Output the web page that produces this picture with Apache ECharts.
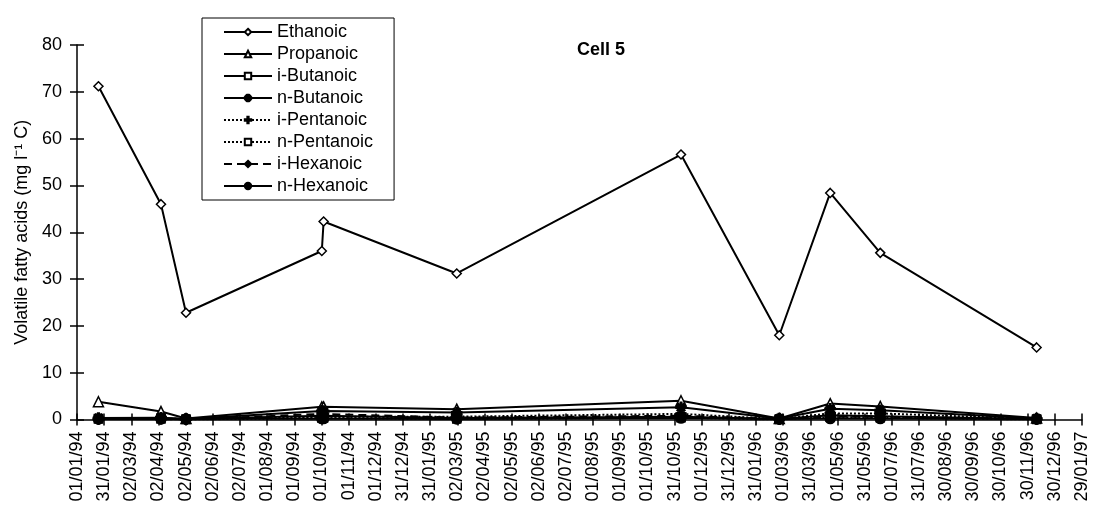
<!DOCTYPE html>
<html>
<head>
<meta charset="utf-8">
<script src="https://cdn.jsdelivr.net/npm/echarts@6/dist/echarts.min.js"></script>
<style>
  html, body { margin: 0; padding: 0; background: #fff; }
  #chart { width: 1097px; height: 517px; }
</style>
</head>
<body>
<div id="chart"></div>
<script>
  // x values are days counted from 01/01/94
  var sampleDays = [24, 94, 122, 274, 276, 425, 676, 786, 843, 899, 1074];

  var ethanoic   = [71.2, 46.0, 22.8, 36.0, 42.3, 31.2, 56.6, 18.0, 48.4, 35.6, 15.4];
  var propanoic  = [3.8, 1.7, 0.2, 2.7, 2.7, 2.2, 4.0, 0.2, 3.4, 2.8, 0.3];
  var iButanoic  = [0.2, 0.3, 0.1, 0.8, 0.8, 0.3, 0.6, 0.1, 0.9, 0.7, 0.1];
  var nButanoic  = [0.3, 0.4, 0.1, 1.8, 1.8, 1.5, 2.6, 0.2, 2.3, 2.0, 0.2];
  var iPentanoic = [0.1, 0.2, 0.1, 0.6, 0.6, 0.6, 1.2, 0.1, 1.3, 1.3, 0.1];
  var nPentanoic = [0.1, 0.1, 0.0, 0.3, 0.3, 0.1, 0.4, 0.0, 0.5, 0.4, 0.0];
  var iHexanoic  = [0.1, 0.1, 0.0, 1.2, 1.2, 0.4, 0.8, 0.1, 0.6, 0.6, 0.1];
  var nHexanoic  = [0.1, 0.1, 0.1, 0.2, 0.2, 0.1, 0.3, 0.1, 0.2, 0.2, 0.1];

  var tickLabels = ['01/01/94','31/01/94','02/03/94','02/04/94','02/05/94','02/06/94','02/07/94','01/08/94',
    '01/09/94','01/10/94','01/11/94','01/12/94','31/12/94','31/01/95','02/03/95','02/04/95','02/05/95',
    '02/06/95','02/07/95','01/08/95','01/09/95','01/10/95','31/10/95','01/12/95','31/12/95','31/01/96',
    '01/03/96','31/03/96','01/05/96','31/05/96','01/07/96','31/07/96','30/08/96','30/09/96','30/10/96',
    '30/11/96','30/12/96','29/01/97'];

  var tickStep = 30.4;
  var font = 'Liberation Sans, Arial, sans-serif';

  var asterisk = 'path://M4.2,0H5.8V10H4.2Z M0,4.2H10V5.8H0Z M1,2.1L2.1,1L9,7.9L7.9,9Z M7.9,1L9,2.1L2.1,9L1,7.9Z';
  var plus = 'path://M4,0H6V10H4Z M0,4H10V6H0Z';

  function pairs(values) {
    return values.map(function (v, i) { return [sampleDays[i], v]; });
  }

  function makeSeries(name, values, symbol, size, filled, lineType) {
    return {
      name: name,
      type: 'line',
      data: pairs(values),
      symbol: symbol,
      symbolSize: size,
      showAllSymbol: true,
      lineStyle: { color: '#000', width: 2, type: lineType },
      itemStyle: { color: filled ? '#000' : '#fff', borderColor: '#000', borderWidth: 1.5 },
      emphasis: { disabled: true },
      animation: false
    };
  }

  var myChart = echarts.init(document.getElementById('chart'));
  myChart.setOption({
    backgroundColor: '#fff',
    title: {
      text: 'Cell 5',
      left: 572,
      top: 36,
      textStyle: { fontFamily: font, fontSize: 18, fontWeight: 'bold', color: '#000' }
    },
    legend: {
      orient: 'vertical',
      left: 202,
      top: 18,
      padding: [5, 21, 5, 21],
      itemGap: 4,
      itemWidth: 48,
      itemHeight: 8,
      borderColor: '#000',
      borderWidth: 1,
      backgroundColor: '#fff',
      textStyle: { fontFamily: font, fontSize: 18, color: '#000' },
      data: ['Ethanoic','Propanoic','i-Butanoic','n-Butanoic','i-Pentanoic','n-Pentanoic','i-Hexanoic','n-Hexanoic']
    },
    grid: {
      left: 77,
      right: 15,
      top: 45,
      bottom: 97.5,
      outerBoundsMode: 'none'
    },
    xAxis: [
      {
        type: 'value',
        min: 0,
        max: tickStep * 37,
        interval: tickStep,
        position: 'bottom',
        splitLine: { show: false },
        axisLine: { onZero: false, lineStyle: { color: '#000', width: 1.5 } },
        axisTick: { length: 6, lineStyle: { color: '#000', width: 1.5 } },
        axisLabel: {
          rotate: 90,
          margin: 12,
          fontFamily: font,
          fontSize: 18,
          color: '#000',
          formatter: function (v) { return tickLabels[Math.round(v / tickStep)] || ''; }
        }
      },
      {
        type: 'value',
        min: 0,
        max: tickStep * 37,
        interval: tickStep,
        position: 'bottom',
        splitLine: { show: false },
        axisLine: { show: false, onZero: false },
        axisTick: { inside: true, length: 6, lineStyle: { color: '#000', width: 1.5 } },
        axisLabel: { show: false }
      }
    ],
    yAxis: [
      {
        type: 'value',
        min: 0,
        max: 80,
        interval: 10,
        position: 'left',
        name: 'Volatile fatty acids (mg l\u207B\u00B9 C)',
        nameLocation: 'middle',
        nameRotate: 90,
        nameGap: 46,
        nameTextStyle: { fontFamily: font, fontSize: 18, color: '#000' },
        splitLine: { show: false },
        axisLine: { show: true, onZero: false, lineStyle: { color: '#000', width: 1.5 } },
        axisTick: { show: true, length: 7, lineStyle: { color: '#000', width: 1.5 } },
        axisLabel: { margin: 15, fontFamily: font, fontSize: 18, color: '#000' }
      },
      {
        type: 'value',
        min: 0,
        max: 80,
        interval: 10,
        position: 'left',
        splitLine: { show: false },
        axisLine: { show: false, onZero: false },
        axisTick: { show: true, inside: true, length: 7, lineStyle: { color: '#000', width: 1.5 } },
        axisLabel: { show: false }
      }
    ],
    series: [
      makeSeries('Ethanoic', ethanoic, 'diamond', 9, false, 'solid'),
      makeSeries('Propanoic', propanoic, 'triangle', 10, false, 'solid'),
      makeSeries('i-Butanoic', iButanoic, 'rect', 8, false, 'solid'),
      makeSeries('n-Butanoic', nButanoic, asterisk, 10, true, 'solid'),
      makeSeries('i-Pentanoic', iPentanoic, plus, 10, true, 'dotted'),
      makeSeries('n-Pentanoic', nPentanoic, 'rect', 8, false, 'dotted'),
      makeSeries('i-Hexanoic', iHexanoic, 'diamond', 10, true, [8, 5]),
      makeSeries('n-Hexanoic', nHexanoic, 'circle', 10, true, 'solid')
    ]
  });
</script>
</body>
</html>
